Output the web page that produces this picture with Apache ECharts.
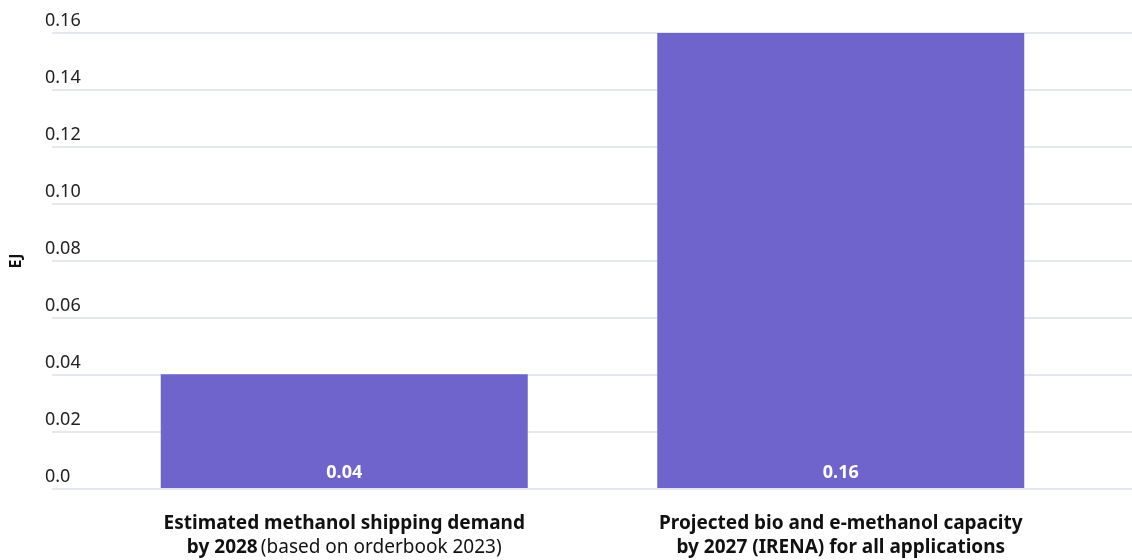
<!DOCTYPE html>
<html>
<head>
<meta charset="utf-8">
<script src="https://cdn.jsdelivr.net/npm/echarts@6/dist/echarts.min.js"></script>
<style>
  html, body { margin: 0; padding: 0; background: #fff; }
  #chart { width: 1132px; height: 560px; }
</style>
</head>
<body>
<div id="chart"></div>
<script>
// Methanol supply vs. shipping demand, in exajoules
const categories = [
  '{b|Estimated methanol shipping demand}\n{b|by 2028} {r|(based on orderbook 2023)}',
  '{b|Projected bio and e-methanol capacity}\n{b|by 2027 (IRENA) for all applications}'
];
const values = [0.04, 0.16];
const yMin = 0;
const yMax = 0.16;
const yStep = 0.02;
const yTickLabels = ['0.0', '0.02', '0.04', '0.06', '0.08', '0.10', '0.12', '0.14', '0.16'];

const FONT = '"Noto Sans", Lato, sans-serif';
const chart = echarts.init(document.getElementById('chart'));

chart.setOption({
  animation: false,
  grid: [
    // bars
    { left: 96, right: 43, top: 33, bottom: 71, containLabel: false },
    // full-width gridlines and tick labels
    { left: 43, right: 0, top: 33, bottom: 71, containLabel: false }
  ],
  xAxis: [
    {
      gridIndex: 0,
      type: 'category',
      data: categories,
      axisLine: { show: false },
      axisTick: { show: false },
      axisLabel: {
        interval: 0,
        margin: 24,
        fontFamily: FONT,
        color: '#111',
        lineHeight: 24,
        rich: {
          b: { fontFamily: FONT, fontWeight: 'bold', fontSize: 19, color: '#111', lineHeight: 24 },
          r: { fontFamily: FONT, fontWeight: 'normal', fontSize: 19, color: '#111', lineHeight: 24 }
        }
      }
    },
    { gridIndex: 1, type: 'value', show: false, min: 0, max: 1 }
  ],
  yAxis: [
    {
      gridIndex: 0, type: 'value', min: yMin, max: yMax, interval: yStep,
      axisLine: { show: false }, axisTick: { show: false },
      axisLabel: { show: false }, splitLine: { show: false }
    },
    {
      gridIndex: 1, type: 'value', min: yMin, max: yMax, interval: yStep,
      name: 'EJ',
      nameLocation: 'middle',
      nameGap: 28,
      nameTextStyle: { fontFamily: FONT, fontWeight: 'bold', fontSize: 16, color: '#111' },
      axisLine: { show: false }, axisTick: { show: false },
      axisLabel: {
        inside: true,
        margin: -7,
        verticalAlign: 'bottom',
        padding: [0, 0, 3, 0],
        fontFamily: FONT,
        fontSize: 18,
        color: '#222',
        formatter: (v) => yTickLabels[Math.round((v - yMin) / yStep)]
      },
      splitLine: { show: true, lineStyle: { color: '#e4e8ec', width: 2 } }
    }
  ],
  series: [
    {
      type: 'bar',
      xAxisIndex: 0,
      yAxisIndex: 0,
      data: values,
      barWidth: 367,
      itemStyle: { color: '#6f64cb' },
      label: {
        show: true,
        position: 'insideBottom',
        distance: 6,
        fontFamily: FONT,
        fontWeight: 'bold',
        fontSize: 18,
        color: '#fff',
        formatter: (p) => p.value.toFixed(2)
      }
    }
  ]
});
</script>
</body>
</html>
